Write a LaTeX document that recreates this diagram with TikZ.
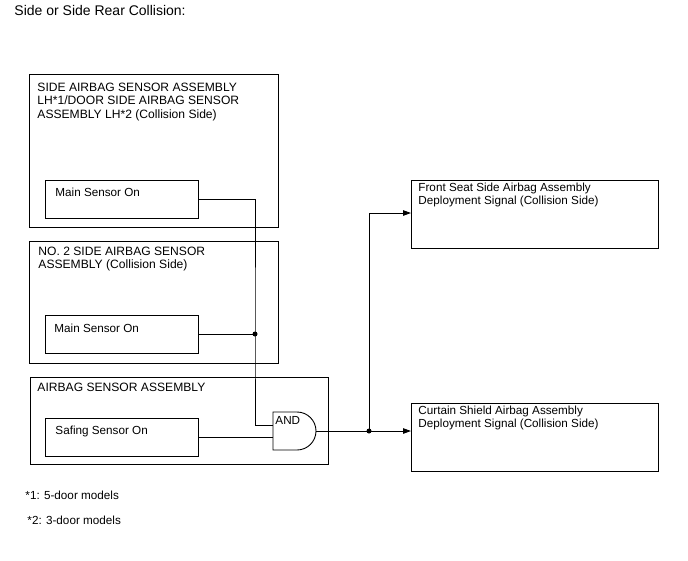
\documentclass[tikz,border=0pt]{standalone}
\usepackage{fontspec}
\setmainfont{Liberation Sans}
\usetikzlibrary{arrows.meta}
\begin{document}
\begin{tikzpicture}[x=1pt,y=-1pt,line width=0.9pt,
  box/.style={draw,rectangle,inner sep=0pt,outer sep=0pt,anchor=north west},
  txt/.style={anchor=north west,align=left,inner sep=0pt,font=\fontsize{11.7}{13.5}\selectfont},
  captxt/.style={txt,font=\fontsize{12.1}{13.5}\selectfont},
  arr/.style={-{Triangle[length=8pt,width=5.5pt]}},
  dot/.style={circle,fill,inner sep=0pt,minimum size=5pt}]
\useasboundingbox (0,0) rectangle (688,560);
\node[txt,font=\fontsize{14}{16}\selectfont] (title) at (14,4.5) {Side or Side Rear Collision:};
% sensor boxes
\node[box,minimum width=249pt,minimum height=153pt] (b1) at (29,74) {};
\node[captxt] (t1) at (37,82.5) {SIDE AIRBAG SENSOR ASSEMBLY\\LH*1/DOOR SIDE AIRBAG SENSOR\\ASSEMBLY LH*2 (Collision Side)};
\node[box,minimum width=153pt,minimum height=38pt] (m1) at (45,180) {};
\node[txt] (tm1) at (55,187.5) {Main Sensor On};
\node[box,minimum width=249pt,minimum height=122pt] (b2) at (29,241) {};
\node[captxt] (t2) at (38,246.5) {NO. 2 SIDE AIRBAG SENSOR\\ASSEMBLY (Collision Side)};
\node[box,minimum width=153pt,minimum height=38pt] (m2) at (45,315) {};
\node[txt] (tm2) at (54,323.5) {Main Sensor On};
\node[box,minimum width=298pt,minimum height=87pt] (b3) at (30,377) {};
\node[captxt] (t3) at (37,382.5) {AIRBAG SENSOR ASSEMBLY};
\node[box,minimum width=153pt,minimum height=38pt] (s) at (45,418) {};
\node[txt] (ts) at (55,425.5) {Safing Sensor On};
% output boxes
\node[box,minimum width=247pt,minimum height=68pt] (f) at (411,180) {};
\node[txt] (tf) at (418,182.5) {Front Seat Side Airbag Assembly\\Deployment Signal (Collision Side)};
\node[box,minimum width=247pt,minimum height=68pt] (c) at (411,403) {};
\node[txt] (tc) at (418,405.5) {Curtain Shield Airbag Assembly\\Deployment Signal (Collision Side)};
% AND gate
\coordinate (gl) at (273,0);
\coordinate (gin1) at (273,425);
\coordinate (gin2) at (s.east -| gl);
\coordinate (gout) at (316,431);
\draw (273,412) -- (297,412) arc[start angle=-90,end angle=90,radius=19] -- (273,450) -- cycle;
\node[txt] (gate) at (275,415.5) {AND};
% connectors
\coordinate (vx) at (255,0);
\coordinate (j1) at (m2.east -| vx);
\coordinate (j2) at (369,431);
\draw (m1.east) -| (j1) |- (gin1);
\draw (m2.east) -- (j1);
\node[dot] (d1) at (j1) {};
\draw (s.east) -- (gin2);
\draw (gout) -- (j2);
\node[dot] (d2) at (j2) {};
\draw[arr] (j2) -- (c.west |- j2);
\draw[arr] (j2) |- (369,213) -- (f.west |- 0,213);
% footnotes
\node[txt] (n1) at (25,491) {*1: 5-door models};
\node[txt] (n2) at (27,516) {*2: 3-door models};
\end{tikzpicture}
\end{document}
